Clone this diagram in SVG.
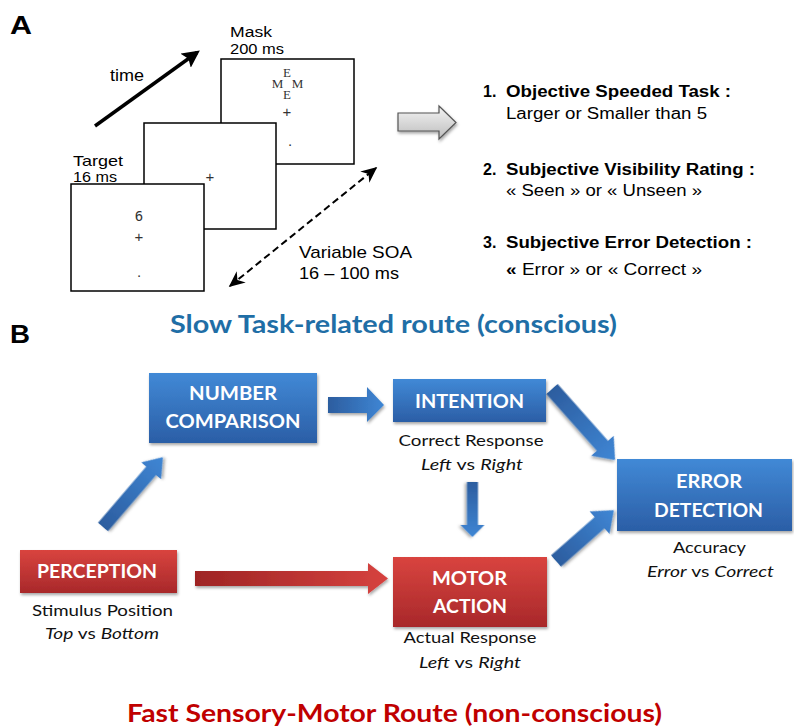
<svg xmlns="http://www.w3.org/2000/svg" width="794" height="727" viewBox="0 0 794 727">
<style>
.ar{font-family:"Liberation Sans",Arial,sans-serif;fill:#000}
.lab{font-family:"Liberation Sans",Arial,sans-serif;font-weight:bold;font-size:25px;fill:#000}
.frame{fill:#fff;stroke:#000;stroke-width:1.5}
.stim{font-family:"Liberation Sans",Arial,sans-serif;font-size:15px;fill:#333;text-anchor:middle}
.dig{font-family:"DejaVu Sans Mono","Liberation Mono",monospace;font-size:14px;fill:#333;text-anchor:middle}
.ser{font-family:"Liberation Serif",serif;font-size:13px;fill:#333;text-anchor:middle}
.bx{font-family:Lato,"Open Sans",sans-serif;font-weight:bold;font-size:18px;fill:#fff;text-anchor:middle}
.sub{font-family:Lato,"Open Sans",sans-serif;font-size:16px;fill:#111;text-anchor:middle}
.it{font-style:italic}
.bl{fill:url(#gBlue);filter:url(#sh)}
.rd{fill:url(#gRed);filter:url(#sh)}
</style>
<defs>
<linearGradient id="gBlue" x1="0" y1="0" x2="0" y2="1">
<stop offset="0" stop-color="#4189d6"/><stop offset="1" stop-color="#2b5ea6"/>
</linearGradient>
<linearGradient id="gRed" x1="0" y1="0" x2="0" y2="1">
<stop offset="0" stop-color="#d9443f"/><stop offset="1" stop-color="#a8282a"/>
</linearGradient>
<linearGradient id="aBlue" x1="0" y1="0" x2="1" y2="0">
<stop offset="0" stop-color="#2c5d9f"/><stop offset="1" stop-color="#3f86d4"/>
</linearGradient>
<linearGradient id="aRed" x1="0" y1="0" x2="1" y2="0">
<stop offset="0" stop-color="#9e2424"/><stop offset="1" stop-color="#d6423f"/>
</linearGradient>
<linearGradient id="aGray" x1="0" y1="0" x2="0" y2="1">
<stop offset="0" stop-color="#f4f4f4"/><stop offset="1" stop-color="#bdbdbd"/>
</linearGradient>
<filter id="sh" x="-20%" y="-20%" width="140%" height="150%">
<feDropShadow dx="1" dy="2" stdDeviation="1.5" flood-color="#000" flood-opacity="0.35"/>
</filter>
<marker id="mTime" viewBox="0 0 10 10" refX="8" refY="5" markerWidth="5" markerHeight="5" orient="auto" markerUnits="strokeWidth">
<path d="M0,0 L10,5 L0,10 L2,5 Z" fill="#000"/>
</marker>
<marker id="mDash" viewBox="0 0 10 10" refX="9" refY="5" markerWidth="8" markerHeight="8" orient="auto-start-reverse" markerUnits="strokeWidth">
<path d="M0,0.5 L10,5 L0,9.5 L3,5 Z" fill="#000"/>
</marker>
</defs>
<rect width="794" height="727" fill="#fff"/>

<!-- Panel A -->
<text class="lab" x="10" y="34" textLength="22" lengthAdjust="spacingAndGlyphs">A</text>

<g id="frameMask">
<rect class="frame" x="221" y="59" width="133" height="105"/>
<text class="ser" x="287" y="77">E</text>
<text class="ser" x="277.5" y="88">M</text>
<text class="ser" x="297.5" y="88">M</text>
<text class="ser" x="287" y="99">E</text>
<text class="stim" x="287" y="117">+</text>
<text class="stim" x="290" y="146">.</text>
</g>
<g id="frameBlank">
<rect class="frame" x="144" y="123" width="132" height="106"/>
<text class="stim" x="210" y="182">+</text>
</g>
<g id="frameTarget">
<rect class="frame" x="71" y="184" width="133" height="107"/>
<text class="dig" x="139" y="221">6</text>
<text class="stim" x="139" y="242">+</text>
<text class="stim" x="139" y="277">.</text>
</g>

<g id="labelsA">
<text class="ar" font-size="16" x="110" y="81" textLength="34" lengthAdjust="spacingAndGlyphs">time</text>
<text class="ar" font-size="15.5" x="230" y="37" textLength="42" lengthAdjust="spacingAndGlyphs">Mask</text>
<text class="ar" font-size="15.5" x="230" y="54" textLength="54" lengthAdjust="spacingAndGlyphs">200 ms</text>
<text class="ar" font-size="15" x="73" y="166" textLength="50" lengthAdjust="spacingAndGlyphs">Target</text>
<text class="ar" font-size="15" x="73" y="182" textLength="44" lengthAdjust="spacingAndGlyphs">16 ms</text>
<text class="ar" font-size="17" x="299" y="258" textLength="113" lengthAdjust="spacingAndGlyphs">Variable SOA</text>
<text class="ar" font-size="17" x="299" y="279" textLength="100" lengthAdjust="spacingAndGlyphs">16 – 100 ms</text>
</g>

<g id="connectorsA">
<line x1="95" y1="126" x2="197" y2="52.5" stroke="#000" stroke-width="3.5" marker-end="url(#mTime)"/>
<line x1="230" y1="286" x2="376" y2="168" stroke="#000" stroke-width="2" stroke-dasharray="7,4" marker-start="url(#mDash)" marker-end="url(#mDash)"/>
<polygon points="398,113 439,113 439,106 456,122.5 439,139 439,131 398,131" fill="url(#aGray)" stroke="#555" stroke-width="1.2" filter="url(#sh)"/>
</g>

<g id="tasks">
<text class="ar" font-size="16" font-weight="bold" x="483" y="97">1.</text>
<text class="ar" font-size="16" font-weight="bold" x="506" y="97" textLength="225" lengthAdjust="spacingAndGlyphs">Objective Speeded Task :</text>
<text class="ar" font-size="16" x="506" y="119" textLength="201" lengthAdjust="spacingAndGlyphs">Larger or Smaller  than 5</text>
<text class="ar" font-size="16" font-weight="bold" x="483" y="175">2.</text>
<text class="ar" font-size="16" font-weight="bold" x="506" y="175" textLength="249" lengthAdjust="spacingAndGlyphs">Subjective Visibility Rating :</text>
<text class="ar" font-size="16" x="506" y="196" textLength="196" lengthAdjust="spacingAndGlyphs">« Seen » or « Unseen »</text>
<text class="ar" font-size="16" font-weight="bold" x="483" y="248">3.</text>
<text class="ar" font-size="16" font-weight="bold" x="506" y="248" textLength="246" lengthAdjust="spacingAndGlyphs">Subjective Error Detection :</text>
<text class="ar" font-size="16" x="506" y="275" textLength="196" lengthAdjust="spacingAndGlyphs"><tspan font-weight="bold">«</tspan>  Error » or « Correct »</text>
</g>

<!-- Panel B -->
<text class="lab" x="10" y="343" textLength="20" lengthAdjust="spacingAndGlyphs">B</text>
<text x="393.5" y="333" text-anchor="middle" font-family="Lato,'Open Sans',sans-serif" font-weight="bold" font-size="25" fill="#1f6ea6" textLength="447" lengthAdjust="spacingAndGlyphs">Slow Task-related route (conscious)</text>
<text x="394.5" y="722" text-anchor="middle" font-family="Lato,'Open Sans',sans-serif" font-weight="bold" font-size="25" fill="#c00000" textLength="535" lengthAdjust="spacingAndGlyphs">Fast Sensory-Motor Route (non-conscious)</text>

<g id="connectorsB">
<polygon points="0,-6.5 74,-6.5 74,-13 92,0 74,13 74,6.5 0,6.5" fill="url(#aBlue)" transform="translate(103,527) rotate(-49.4)" filter="url(#sh)"/>
<polygon points="328,397 367,397 367,387 384,405 367,422 367,413 328,413" fill="url(#aBlue)" filter="url(#sh)"/>
<polygon points="0,-7.5 76,-7.5 76,-15 95,0 76,15 76,7.5 0,7.5" fill="url(#aBlue)" transform="translate(552,389) rotate(48.4)" filter="url(#sh)"/>
<polygon points="0,-5.5 43,-5.5 43,-12 55,0 43,12 43,5.5 0,5.5" fill="url(#aBlue)" transform="translate(472.5,482) rotate(90)" filter="url(#sh)"/>
<polygon points="0,-7.5 58,-7.5 58,-15 77,0 58,15 58,7.5 0,7.5" fill="url(#aBlue)" transform="translate(556,561) rotate(-41.3)" filter="url(#sh)"/>
<polygon points="195,571 368,571 368,563 388,578.5 368,594 368,586 195,586" fill="url(#aRed)" filter="url(#sh)"/>
</g>

<g id="numberComparison">
<rect class="bl" x="149" y="373" width="168" height="70"/>
<text class="bx" x="233" y="400" textLength="88" lengthAdjust="spacingAndGlyphs">NUMBER</text>
<text class="bx" x="233" y="428" textLength="135" lengthAdjust="spacingAndGlyphs">COMPARISON</text>
</g>

<g id="intention">
<rect class="bl" x="393" y="379" width="153" height="43"/>
<text class="bx" x="469.5" y="408" textLength="109" lengthAdjust="spacingAndGlyphs">INTENTION</text>
<text class="sub" x="471" y="446" textLength="145" lengthAdjust="spacingAndGlyphs">Correct Response</text>
<text class="sub" x="472" y="470" textLength="102" lengthAdjust="spacingAndGlyphs"><tspan class="it">Left</tspan> vs <tspan class="it">Right</tspan></text>
</g>

<g id="errorDetection">
<rect class="bl" x="617" y="459" width="175" height="72"/>
<text class="bx" x="709" y="488" textLength="66" lengthAdjust="spacingAndGlyphs">ERROR</text>
<text class="bx" x="708.5" y="517" textLength="109" lengthAdjust="spacingAndGlyphs">DETECTION</text>
<text class="sub" x="709.5" y="553" textLength="73" lengthAdjust="spacingAndGlyphs">Accuracy</text>
<text class="sub" x="710.5" y="577" textLength="127" lengthAdjust="spacingAndGlyphs"><tspan class="it">Error</tspan> vs <tspan class="it">Correct</tspan></text>
</g>

<g id="perception">
<rect class="rd" x="20" y="550" width="157" height="43"/>
<text class="bx" x="97" y="578" textLength="120" lengthAdjust="spacingAndGlyphs">PERCEPTION</text>
<text class="sub" x="102.5" y="616" textLength="141" lengthAdjust="spacingAndGlyphs">Stimulus Position</text>
<text class="sub" x="102" y="639" textLength="114" lengthAdjust="spacingAndGlyphs"><tspan class="it">Top</tspan> vs <tspan class="it">Bottom</tspan></text>
</g>

<g id="motorAction">
<rect class="rd" x="393" y="557" width="154" height="70"/>
<text class="bx" x="469.5" y="585" textLength="75" lengthAdjust="spacingAndGlyphs">MOTOR</text>
<text class="bx" x="470" y="613" textLength="74" lengthAdjust="spacingAndGlyphs">ACTION</text>
<text class="sub" x="470" y="643" textLength="133" lengthAdjust="spacingAndGlyphs">Actual Response</text>
<text class="sub" x="470" y="668" textLength="102" lengthAdjust="spacingAndGlyphs"><tspan class="it">Left</tspan> vs <tspan class="it">Right</tspan></text>
</g>
</svg>
